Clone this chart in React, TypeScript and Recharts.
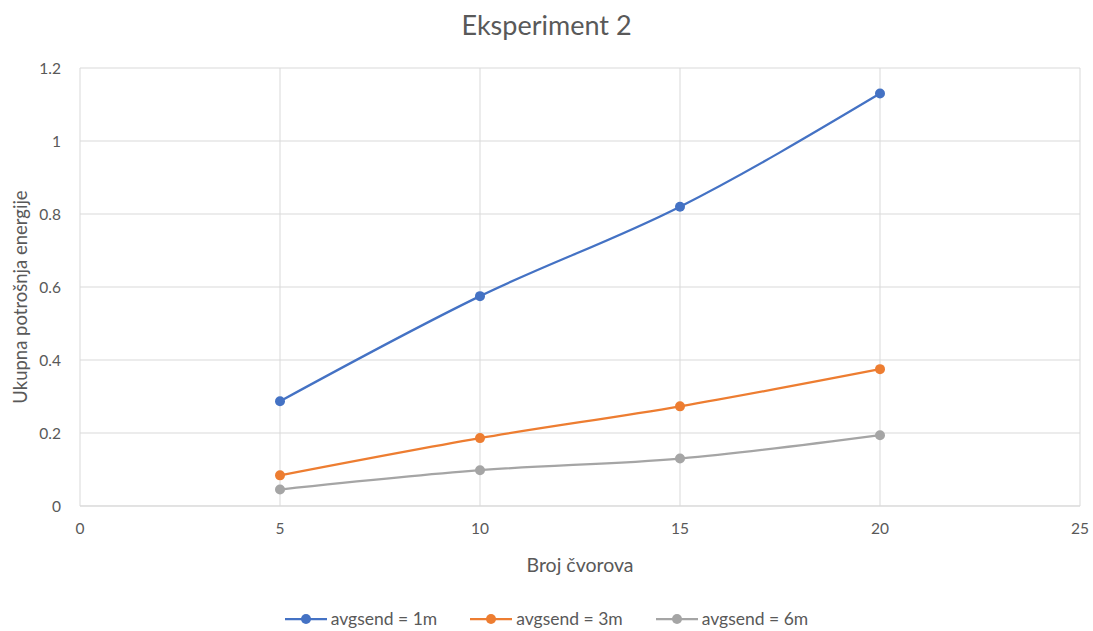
import { LineChart, Line, XAxis, YAxis, CartesianGrid, Legend } from 'recharts';

const nodeCounts = [5, 10, 15, 20];
const send1m = [0.287, 0.575, 0.82, 1.13];
const send3m = [0.084, 0.186, 0.273, 0.375];
const send6m = [0.045, 0.098, 0.13, 0.194];

const xTicks = [0, 5, 10, 15, 20, 25];
const yTicks = [0, 0.2, 0.4, 0.6, 0.8, 1, 1.2];

const seriesList = [
  { key: 'm1', name: 'avgsend = 1m', color: '#4472C4' },
  { key: 'm3', name: 'avgsend = 3m', color: '#ED7D31' },
  { key: 'm6', name: 'avgsend = 6m', color: '#A5A5A5' },
];

const chartData = nodeCounts.map((n, i) => ({
  x: n,
  m1: send1m[i],
  m3: send3m[i],
  m6: send6m[i],
}));

const FONT = 'Lato, "Open Sans", sans-serif';
const TEXT = '#595959';
const GRID = '#D9D9D9';

function LegendContent() {
  return (
    <div style={{ display: 'flex', justifyContent: 'center', gap: 33, fontFamily: FONT, fontSize: 17.5, color: TEXT }}>
      {seriesList.map((s) => (
        <div key={s.key} style={{ display: 'flex', alignItems: 'center', gap: 4 }}>
          <svg width={42} height={12}>
            <line x1={0} y1={6} x2={42} y2={6} stroke={s.color} strokeWidth={2.25} />
            <circle cx={21} cy={6} r={5} fill={s.color} />
          </svg>
          <span>{s.name}</span>
        </div>
      ))}
    </div>
  );
}

export default function App() {
  return (
    <div style={{ position: 'absolute', left: 0, top: 0, width: 1093, height: 631, background: '#fff' }}>
      <div
        style={{
          position: 'absolute',
          top: 8,
          left: 0,
          width: 1093,
          textAlign: 'center',
          fontFamily: FONT,
          fontSize: 27,
          color: TEXT,
        }}
      >
        Eksperiment 2
      </div>
      <LineChart width={1093} height={631} data={chartData} margin={{ top: 68, right: 13, left: 0, bottom: 55 }}>
        <CartesianGrid stroke={GRID} strokeWidth={1} horizontalValues={yTicks} verticalValues={xTicks} />
        <XAxis
          dataKey="x"
          type="number"
          domain={[0, 25]}
          ticks={xTicks}
          height={70}
          tickLine={false}
          tickSize={0}
          tickMargin={17}
          axisLine={{ stroke: GRID }}
          tick={{ fill: TEXT, fontSize: 15.5, fontFamily: FONT }}
          label={{ value: 'Broj čvorova', position: 'insideBottom', offset: 4, fill: TEXT, fontSize: 19.5, fontFamily: FONT }}
        />
        <YAxis
          type="number"
          domain={[0, 1.2]}
          ticks={yTicks}
          width={80}
          tickLine={false}
          tickSize={0}
          tickMargin={19}
          axisLine={false}
          tick={{ fill: TEXT, fontSize: 15.5, fontFamily: FONT }}
          label={{
            value: 'Ukupna potrošnja energije',
            angle: -90,
            position: 'insideLeft',
            dx: 15,
            dy: 10,
            fill: TEXT,
            fontSize: 18.5,
            fontFamily: FONT,
            style: { textAnchor: 'middle' },
          }}
        />
        <Legend
          verticalAlign="middle"
          align="center"
          layout="horizontal"
          wrapperStyle={{ top: 608, left: 0, width: 1093 }}
          content={<LegendContent />}
        />
        {seriesList.map((s) => (
          <Line
            key={s.key}
            type="monotone"
            dataKey={s.key}
            name={s.name}
            stroke={s.color}
            strokeWidth={2.25}
            dot={{ r: 5, fill: s.color, stroke: s.color, strokeWidth: 0 }}
            isAnimationActive={false}
          />
        ))}
      </LineChart>
    </div>
  );
}
